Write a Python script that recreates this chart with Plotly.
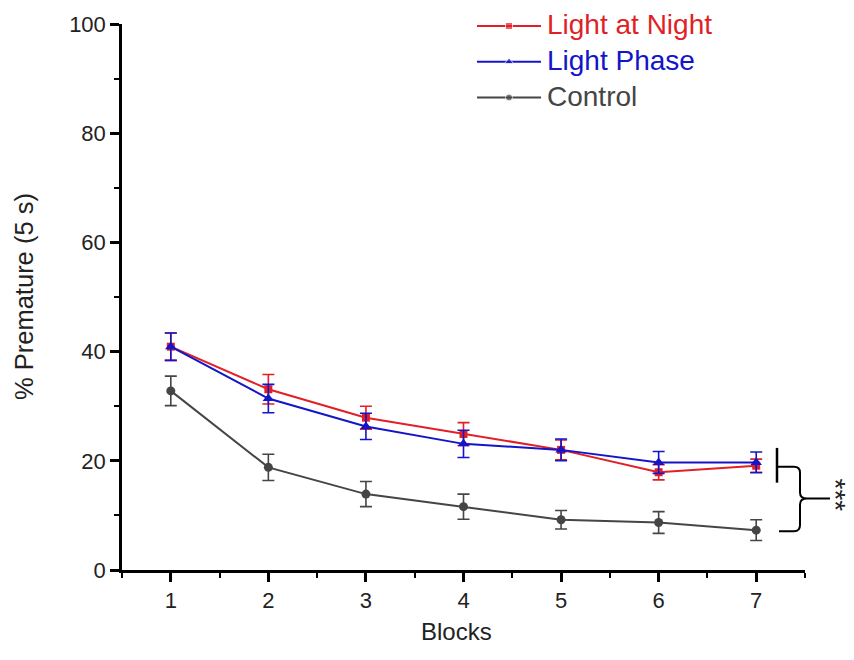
import plotly.graph_objects as go

# ---------------- data ----------------
blocks = [1, 2, 3, 4, 5, 6, 7]
light_at_night = [40.9, 33.1, 27.9, 24.9, 22.0, 17.9, 19.1]
light_at_night_err = [2.5, 2.7, 2.1, 2.1, 1.8, 1.4, 1.2]
light_phase = [40.9, 31.4, 26.3, 23.1, 22.0, 19.7, 19.7]
light_phase_err = [2.5, 2.6, 2.4, 2.5, 2.0, 2.0, 1.9]
control = [32.8, 18.8, 13.9, 11.6, 9.2, 8.7, 7.3]
control_err = [2.7, 2.4, 2.3, 2.3, 1.7, 2.0, 1.9]

series_names = ["Light at Night", "Light Phase", "Control"]
x_title = "Blocks"
y_title = "% Premature (5 s)"
sig_label = "***"

RED = "#E21F26"
BLUE = "#1414C8"
GREY = "#454545"
FONT = "Liberation Sans, Arial, sans-serif"

W, H = 854, 660
L, R, T, B = 122, 805, 20, 570  # plot-area pixel box


def px(xp):
    return (xp - L) / (R - L)


def py(yp):
    return (B - yp) / (B - T)


fig = go.Figure()


def add_series(y, err, color, symbol, size):
    fig.add_trace(go.Scatter(
        x=blocks, y=y, mode="lines+markers",
        line=dict(color=color, width=2),
        marker=dict(color=color, symbol=symbol, size=size),
        error_y=dict(type="data", array=err, visible=True, color=color,
                     thickness=1.6, width=6),
        showlegend=False, cliponaxis=False,
    ))


add_series(control, control_err, GREY, "circle", 9)
add_series(light_at_night, light_at_night_err, RED, "square", 8)
add_series(light_phase, light_phase_err, BLUE, "triangle-up", 10)

# ---------------- custom legend (pixel overlay axes) ----------------
leg_rows = [22, 58, 94]
leg_colors = [RED, BLUE, GREY]
leg_symbols = ["square", "triangle-up", "circle"]
leg_sizes = [7, 8, 7]
for yrow, col, sym, ms, name in zip(leg_rows, leg_colors, leg_symbols,
                                    leg_sizes, series_names):
    fig.add_trace(go.Scatter(
        x=[477, 509, 541], y=[yrow] * 3, xaxis="x2", yaxis="y2",
        mode="lines+markers", line=dict(color=col, width=2),
        marker=dict(color=col, symbol=sym, size=[0, ms, 0]),
        showlegend=False, cliponaxis=False, hoverinfo="skip",
    ))
    fig.add_annotation(x=px(545), y=py(yrow - 1), xref="paper", yref="paper",
                       text=name, showarrow=False, xanchor="left",
                       yanchor="middle",
                       font=dict(family=FONT, size=28, color=col))

# ---------------- significance bracket ----------------
shapes = []
shapes.append(dict(type="line", xref="paper", yref="paper",
                   x0=px(777), x1=px(777), y0=py(447), y1=py(482),
                   line=dict(color="black", width=2.5)))


def path_from(cmds):
    out = []
    for c in cmds:
        if isinstance(c, str):
            out.append(c)
        else:
            out.append(f"{px(c[0]):.5f},{py(c[1]):.5f}")
    return " ".join(out)


brace = path_from([
    "M", (777, 466), "L", (794, 466), "Q", (800, 466), (800, 472),
    "L", (800, 492), "Q", (800, 498), (807, 498), "L", (830, 498),
    "M", (807, 498), "Q", (800, 498), (800, 504),
    "L", (800, 525), "Q", (800, 531), (794, 531), "L", (779, 531),
])
shapes.append(dict(type="path", xref="paper", yref="paper", path=brace,
                   line=dict(color="black", width=2)))

fig.add_annotation(x=px(835), y=py(494), xref="paper", yref="paper",
                   text=sig_label, textangle=90, showarrow=False,
                   xanchor="center", yanchor="middle",
                   font=dict(family=FONT, size=28, color="#222"))

# ---------------- axis titles ----------------
fig.add_annotation(x=px(456), y=py(632), xref="paper", yref="paper",
                   text=x_title, showarrow=False, xanchor="center",
                   yanchor="middle", font=dict(family=FONT, size=24, color="#222"))
fig.add_annotation(x=px(24), y=py(295), xref="paper", yref="paper",
                   text=y_title, showarrow=False, textangle=-90,
                   xanchor="center", yanchor="middle",
                   font=dict(family=FONT, size=25.5, color="#222"))

fig.update_layout(
    width=W, height=H,
    margin=dict(l=L, r=W - R, t=T, b=H - B, pad=0),
    paper_bgcolor="white", plot_bgcolor="white",
    shapes=shapes,
    showlegend=False,
    xaxis=dict(range=[0.5, 7.5], tickmode="linear", tick0=1, dtick=1,
               showline=True, linecolor="black", linewidth=2.5,
               ticks="outside", ticklen=9, tickwidth=2.5, tickcolor="black",
               minor=dict(tickmode="linear", tick0=0.5, dtick=0.5,
                          ticks="outside", ticklen=5, tickwidth=2,
                          tickcolor="black"),
               showgrid=False, zeroline=False,
               tickfont=dict(family=FONT, size=22, color="#222")),
    yaxis=dict(range=[0, 100], tickmode="linear", tick0=0, dtick=20,
               showline=True, linecolor="black", linewidth=2.5,
               ticks="outside", ticklen=9, tickwidth=2.5, tickcolor="black",
               minor=dict(tickmode="linear", tick0=0, dtick=10,
                          ticks="outside", ticklen=5, tickwidth=2,
                          tickcolor="black"),
               showgrid=False, zeroline=False,
               tickfont=dict(family=FONT, size=22, color="#222")),
    xaxis2=dict(range=[L, R], overlaying="x", visible=False),
    yaxis2=dict(range=[B, T], overlaying="y", visible=False),
)

fig.write_html("out.html")
